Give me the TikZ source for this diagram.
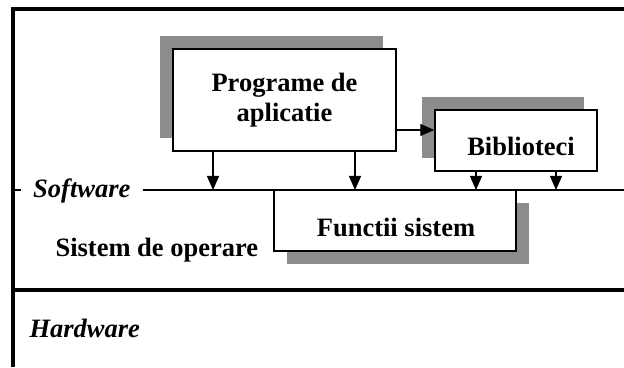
\documentclass[tikz,border=0pt]{standalone}
\usepackage{fontspec}
\setmainfont{Liberation Serif}
\usetikzlibrary{arrows.meta,shadows}

\begin{document}
\begin{tikzpicture}[x=1pt,y=1pt,
    every node/.style={font=\fontsize{26.5}{30}\selectfont\bfseries},
    frame/.style={line width=4.5pt},
    box/.style={draw,fill=white,line width=1.4pt,inner sep=0pt},
    shadowul/.style={general shadow={fill=black!45,shadow xshift=-13pt,shadow yshift=13pt}},
    shadowdr/.style={general shadow={fill=black!45,shadow xshift=13pt,shadow yshift=-13pt}},
    arr/.style={line width=1.2pt,-{Triangle[length=14pt,width=12pt]}}]
  \useasboundingbox (0,0) rectangle (624,367);

  % outer frame and software/hardware border
  \draw[frame] (624,358) -- (13,358) -- (13,0);
  \draw[frame] (13,77) -- (624,77);

  % software line
  \coordinate (swl) at (13,177);
  \coordinate (swr) at (624,177);
  \node[anchor=base west,inner xsep=12pt] (sw) at (21,169.5) {\itshape Software};
  \draw[line width=1.2pt] (swl) -- (swl -| sw.west);
  \draw[line width=1.2pt] (swl -| sw.east) -- (swr);

  % boxes
  \node[box,shadowul,align=center,minimum width=223pt,minimum height=102pt]
    (prog) at (284.5,267) {Programe de\\aplicatie};
  \node[box,shadowul,minimum width=162pt,minimum height=61pt] (bib) at (516,226.5) {};
  \node[anchor=base] at (521,211) {Biblioteci};
  \node[box,shadowdr,minimum width=242pt,minimum height=61pt] (func) at (395,146.5) {};
  \node[anchor=base] at (396,130) {Functii sistem};

  % calls
  \path ([yshift=-30pt]prog.east) coordinate (pb);
  \draw[arr] (pb) -- (pb -| bib.west);
  \foreach \x/\src in {213/prog,355/prog,476/bib,556/bib} {
    \coordinate (t) at (\x,177);
    \draw[arr] (t |- \src.south) -- (t);
  }

  \node[anchor=base west] at (52,110) {Sistem de operare};
  \node[anchor=base west] at (26,30) {\itshape Hardware};
\end{tikzpicture}
\end{document}
